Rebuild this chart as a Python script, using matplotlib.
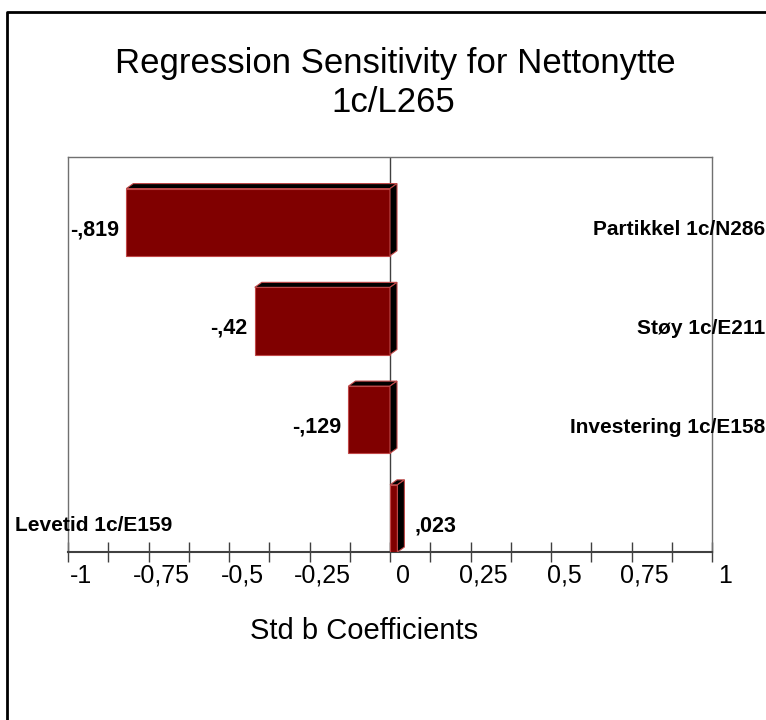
import matplotlib
matplotlib.use("Agg")
import matplotlib.pyplot as plt
from matplotlib.patches import Polygon
from matplotlib.lines import Line2D
from matplotlib import transforms

# data
names = ["Partikkel 1c/N286", "Støy 1c/E211", "Investering 1c/E158", "Levetid 1c/E159"]
coefs = [-0.819, -0.42, -0.129, 0.023]
value_labels = ["-,819", "-,42", "-,129", ",023"]
tick_values = [-1, -0.75, -0.5, -0.25, 0, 0.25, 0.5, 0.75, 1]
tick_labels = ["-1", "-0,75", "-0,5", "-0,25", "0", "0,25", "0,5", "0,75", "1"]

plt.rcParams['font.family'] = ['Liberation Sans', 'DejaVu Sans']

fig = plt.figure(figsize=(7.66, 7.2), dpi=100)
ax = fig.add_axes([68 / 766, 1 - 552 / 720, 644 / 766, 395 / 720])
ax.set_xlim(-1, 1)
ax.set_ylim(3.5, -0.5)

bar_h = 0.68
dx = 7 / 322   # fake 3d depth
dy = 5 / 98.75
face = "#800000"
edge = "#c04848"

for i, v in enumerate(coefs):
    x0, x1 = min(0, v), max(0, v)
    bottom = i + 0.5
    top = bottom - bar_h
    ax.barh(bottom - bar_h / 2, v, height=bar_h, color=face, edgecolor=edge,
            linewidth=0.8, zorder=3)
    top_face = [(x0, top), (x1, top), (x1 + dx, top - dy), (x0 + dx, top - dy)]
    side_face = [(x1, top), (x1 + dx, top - dy), (x1 + dx, bottom - dy), (x1, bottom)]
    for pts in (top_face, side_face):
        ax.add_patch(Polygon(pts, closed=True, facecolor="black", edgecolor=edge,
                             linewidth=0.8, zorder=3))

    ty = i + 0.29
    if v < 0:
        ax.annotate(value_labels[i], (x0, ty), xytext=(-5, 0), textcoords="offset points",
                    ha="right", va="baseline", fontsize=15.5, fontweight="bold")
        ax.text(765 / 766, ty, names[i], transform=transforms.blended_transform_factory(fig.transFigure, ax.transData),
                ha="right", va="baseline", fontsize=15, fontweight="bold")
    else:
        ax.annotate(value_labels[i], (x1 + dx, ty), xytext=(7, 0), textcoords="offset points",
                    ha="left", va="baseline", fontsize=15.5, fontweight="bold")
        ax.text(15 / 766, ty, names[i], transform=transforms.blended_transform_factory(fig.transFigure, ax.transData),
                ha="left", va="baseline", fontsize=15, fontweight="bold")

ax.axvline(0, color="#404040", linewidth=1, zorder=1)

for s in ("top", "left", "right"):
    ax.spines[s].set_color("#707070")
    ax.spines[s].set_linewidth(1)
ax.spines["bottom"].set_color("#404040")
ax.spines["bottom"].set_linewidth(1.5)
ax.set_yticks([])
ax.set_xticks([t / 8 for t in range(-8, 9)])
ax.tick_params(axis="x", direction="inout", length=14, width=1, color="#404040", labelbottom=False)

# tick labels sit a little right of their ticks in the original
lab_tr = ax.get_xaxis_transform() + transforms.ScaledTranslation(13 / 100, 0, fig.dpi_scale_trans)
for tv, tl in zip(tick_values, tick_labels):
    ax.text(tv, -31 / 395, tl, transform=lab_tr, ha="center", va="baseline", fontsize=18)

fig.text(395 / 766, 1 - 73 / 720, "Regression Sensitivity for Nettonytte", ha="center", va="baseline", fontsize=25)
fig.text(393 / 766, 1 - 112 / 720, "1c/L265", ha="center", va="baseline", fontsize=25)
fig.text(364 / 766, 1 - 639 / 720, "Std b Coefficients", ha="center", va="baseline", fontsize=21)

# outer frame: only left and top edges are visible
fig.add_artist(Line2D([7 / 766, 7 / 766, 1], [0, 1 - 12 / 720, 1 - 12 / 720],
                      transform=fig.transFigure, color="black", linewidth=2))

fig.savefig("out.png", dpi=100)
